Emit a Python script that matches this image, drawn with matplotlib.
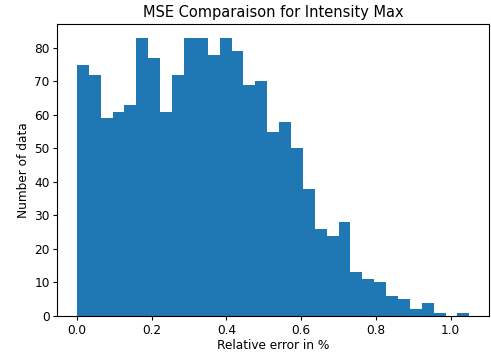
import numpy as np
import matplotlib
matplotlib.use("Agg")
import matplotlib.pyplot as plt

# Histogram counts (33 bins from 0 to 1.05)
counts = [75, 72, 59, 61, 63, 83, 77, 61, 72, 83, 83, 78, 83, 79, 69, 70, 55,
          58, 50, 38, 26, 24, 28, 13, 11, 10, 6, 5, 2, 4, 1, 0, 1]
bin_min = 0.0
bin_max = 1.05
n_bins = len(counts)

edges = np.linspace(bin_min, bin_max, n_bins + 1)
centers = (edges[:-1] + edges[1:]) / 2

plt.rcParams['font.family'] = ['DejaVu Sans']
fig = plt.figure(figsize=(4.91, 3.52), dpi=100)
ax = fig.add_axes([57.3 / 491, 36 / 352, (489 - 57.3) / 491, (316 - 24) / 352])
ax.hist(centers, bins=edges, weights=counts, color='#1f77b4')
ax.set_title("MSE Comparaison for Intensity Max", fontsize=10.5, pad=5)
ax.set_xlabel("Relative error in %", fontsize=8.7, labelpad=2)
ax.set_ylabel("Number of data", fontsize=8.7, labelpad=3)
ax.tick_params(labelsize=8.7, length=3, pad=2.5)
ax.set_yticks(np.arange(0, 81, 10))
fig.savefig("out.png", dpi=100)
